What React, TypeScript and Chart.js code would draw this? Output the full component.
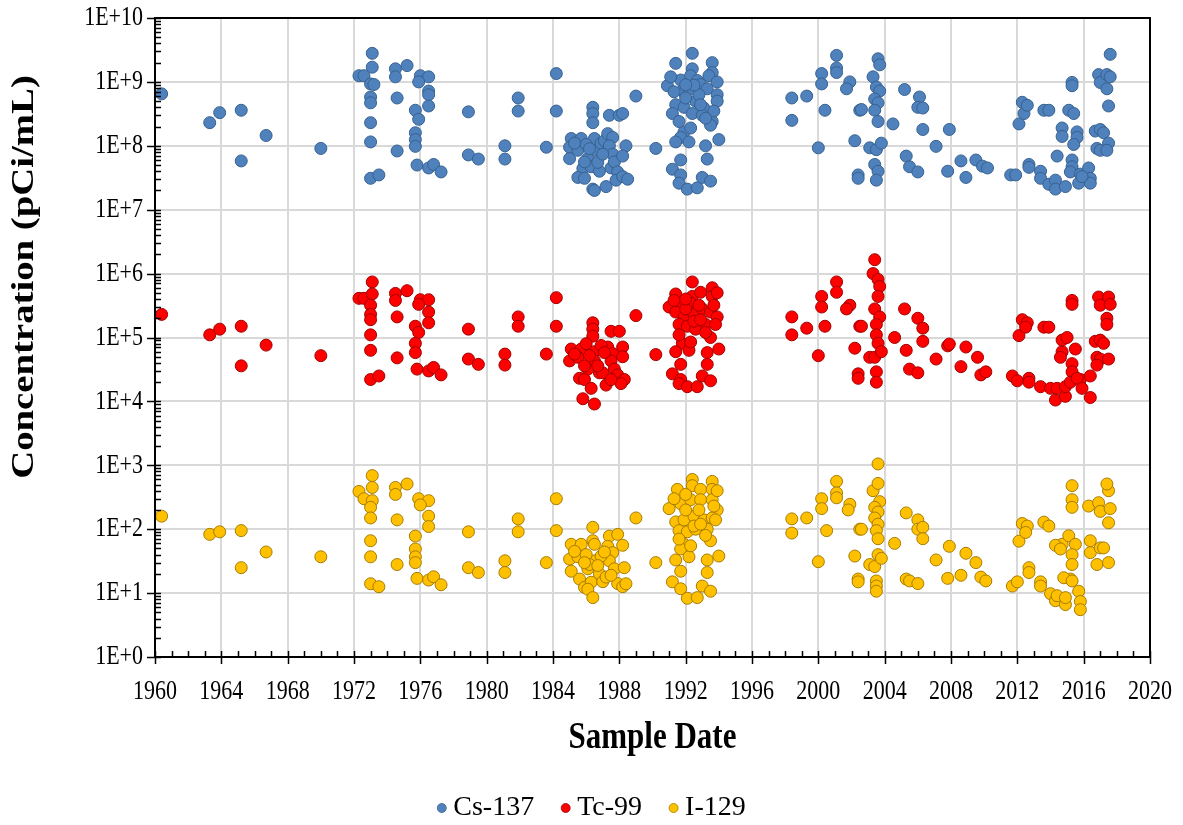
import React, { useEffect, useRef } from 'react';
import { Chart, registerables } from 'chart.js';

Chart.register(...registerables);

const FONT = "'Liberation Serif', 'Times New Roman', serif";

const seriesLabels = ['Cs-137', 'Tc-99', 'I-129'];
const seriesFill = ['#4f81bd', '#ff0000', '#ffc000'];
const seriesBorder = ['#37618f', '#a00000', '#a67c00'];

const xTickValues = [1960, 1964, 1968, 1972, 1976, 1980, 1984, 1988, 1992, 1996, 2000, 2004, 2008, 2012, 2016, 2020];
const yTickValues = [1, 10, 100, 1e3, 1e4, 1e5, 1e6, 1e7, 1e8, 1e9, 1e10];
const yTickLabels = ['1E+0', '1E+1', '1E+2', '1E+3', '1E+4', '1E+5', '1E+6', '1E+7', '1E+8', '1E+9', '1E+10'];

const xAxisTitle = 'Sample Date';
const yAxisTitle = 'Concentration (pCi/mL)';

// [sample year, concentration pCi/mL]
const cs137: [number, number][] = [
  [1960.4, 6.5e8], [1963.3, 2.3e8], [1963.9, 3.3e8], [1965.2, 3.6e8], [1965.2, 5.8e7], [1966.7, 1.45e8], [1970.0, 9.1e7],
  [1972.3, 1.25e9], [1972.6, 1.25e9], [1973.1, 2.8e9], [1973.1, 1.7e9], [1973.0, 9.3e8], [1973.2, 9.1e8], [1973.0, 5.8e8],
  [1973.0, 4.7e8], [1973.0, 2.3e8], [1973.0, 1.15e8], [1973.0, 3.1e7], [1973.5, 3.5e7],
  [1974.5, 1.6e9], [1974.5, 1.2e9], [1975.2, 1.8e9], [1974.6, 5.6e8], [1974.6, 8.3e7],
  [1976.0, 1.25e9], [1976.5, 1.2e9], [1975.9, 1.0e9], [1976.5, 7.2e8], [1976.5, 6.3e8], [1976.5, 4.2e8], [1975.7, 3.6e8],
  [1975.9, 2.6e8], [1975.7, 1.6e8], [1975.7, 1.25e8], [1975.7, 9.8e7], [1975.8, 5.0e7], [1976.5, 4.5e7], [1976.8, 5.1e7],
  [1977.25, 3.9e7], [1978.9, 3.4e8], [1978.9, 7.2e7], [1979.5, 6.2e7],
  [1981.1, 1.0e8], [1981.1, 6.2e7], [1981.9, 5.6e8], [1981.9, 3.5e8], [1983.6, 9.5e7], [1984.2, 1.35e9], [1984.2, 3.5e8],
  [1986.4, 4.0e8], [1986.4, 3.2e8], [1986.4, 2.3e8], [1985.1, 1.3e8], [1985.7, 1.3e8], [1985.0, 9.5e7], [1985.5, 8.5e7],
  [1985.0, 6.3e7], [1986.5, 1.3e8], [1986.5, 8.5e7], [1986.1, 6.3e7], [1985.8, 4.4e7], [1986.3, 4.7e7], [1986.8, 4.0e7],
  [1985.5, 3.2e7], [1985.9, 3.1e7], [1986.4, 2.1e7], [1986.5, 2.0e7], [1987.2, 2.3e7], [1986.0, 1.05e8], [1986.9, 1.1e8],
  [1985.3, 1.1e8], [1986.2, 9.0e7], [1987.1, 1.2e8], [1986.7, 5.5e7], [1985.9, 5.6e7], [1987.5, 4.5e7],
  [1987.4, 3.0e8], [1988.0, 3.0e8], [1987.3, 1.55e8], [1987.6, 1.35e8], [1987.4, 1.0e8], [1987.6, 7.4e7], [1987.0, 7.4e7],
  [1987.7, 5.6e7], [1987.9, 3.9e7], [1987.8, 2.9e7], [1988.2, 3.2e8], [1988.4, 1.0e8], [1988.2, 6.9e7], [1988.2, 3.3e7],
  [1988.5, 3.0e7], [1989.0, 6.0e8], [1990.2, 9.1e7],
  [1992.4, 2.8e9], [1991.4, 1.95e9], [1992.4, 1.6e9], [1993.6, 2.0e9], [1993.6, 1.4e9], [1990.9, 8.7e8], [1991.7, 1.07e9],
  [1992.3, 1.25e9], [1992.7, 1.05e9], [1992.9, 9.1e8], [1993.3, 7.8e8], [1991.4, 4.4e8], [1991.9, 4.0e8], [1991.8, 7.2e8],
  [1992.2, 7.6e8], [1992.6, 5.0e8], [1993.1, 3.9e8], [1993.9, 6.3e8], [1993.9, 5.0e8], [1992.4, 3.2e8], [1993.0, 3.0e8],
  [1993.6, 2.4e8], [1993.5, 2.1e8], [1991.9, 1.65e8], [1991.7, 1.35e8], [1991.4, 1.15e8], [1992.2, 1.15e8], [1993.2, 1.0e8],
  [1994.0, 1.25e8], [1991.7, 6.0e7], [1993.3, 6.2e7], [1991.2, 4.3e7], [1991.7, 3.5e7], [1991.6, 2.6e7], [1992.1, 2.1e7],
  [1992.7, 2.2e7], [1993.0, 3.2e7], [1993.5, 2.8e7], [1992.0, 5.6e8], [1992.8, 6.3e8], [1991.2, 3.2e8], [1992.5, 8.9e8],
  [1993.4, 1.25e9], [1991.3, 7.0e8], [1992.9, 4.4e8], [1993.7, 3.5e8], [1991.6, 2.4e8], [1992.3, 1.9e8], [1993.2, 2.7e8],
  [1992.0, 9.0e8], [1993.9, 1.0e9], [1991.1, 1.2e9],
  [1998.4, 5.6e8], [1998.4, 2.5e8], [1999.3, 6.0e8], [2000.0, 9.3e7], [2000.2, 1.35e9], [2000.2, 9.3e8], [2000.4, 3.6e8],
  [2001.1, 2.6e9], [2001.1, 1.65e9], [2001.1, 1.4e9], [2001.9, 1.0e9], [2001.7, 7.8e8], [2002.2, 1.2e8], [2002.5, 3.6e8],
  [2002.6, 3.7e8], [2002.4, 3.5e7], [2002.4, 3.1e7], [2003.1, 9.3e7], [2003.5, 8.7e7], [2003.3, 1.2e9], [2003.5, 8.3e8],
  [2003.7, 7.2e8], [2003.4, 5.4e8], [2003.6, 4.7e8], [2003.4, 3.6e8], [2003.6, 2.4e8], [2003.8, 1.1e8], [2003.4, 5.1e7],
  [2003.6, 4.0e7], [2003.5, 2.9e7], [2003.6, 2.3e9], [2003.7, 1.85e9], [2004.5, 2.2e8],
  [2005.2, 7.6e8], [2006.1, 5.8e8], [2006.0, 4.0e8], [2006.3, 3.9e8], [2006.3, 1.8e8], [2007.1, 9.8e7], [2005.3, 6.9e7],
  [2005.5, 4.7e7], [2006.0, 3.9e7], [2007.9, 1.8e8], [2007.8, 4.0e7], [2008.6, 5.8e7], [2008.9, 3.2e7], [2009.5, 6.0e7],
  [2009.9, 4.8e7], [2010.2, 4.5e7], [2011.6, 3.5e7], [2011.9, 3.5e7],
  [2012.1, 2.2e8], [2012.4, 3.2e8], [2012.3, 4.8e8], [2012.6, 4.3e8], [2012.7, 5.1e7], [2012.7, 4.6e7], [2013.4, 4.0e7],
  [2013.4, 3.1e7], [2013.6, 3.6e8], [2013.9, 3.6e8], [2013.9, 2.5e7], [2014.3, 2.9e7], [2014.3, 2.1e7], [2014.9, 2.3e7],
  [2014.4, 6.9e7], [2014.7, 1.9e8], [2014.7, 1.4e8], [2015.3, 9.8e8], [2015.3, 8.7e8], [2015.1, 3.6e8], [2015.4, 3.2e8],
  [2015.6, 1.65e8], [2015.6, 1.35e8], [2015.4, 1.05e8], [2015.3, 6.0e7], [2015.3, 4.7e7], [2015.2, 3.9e7], [2015.8, 3.6e7],
  [2016.3, 4.5e7], [2016.4, 3.1e7], [2016.4, 2.6e7], [2015.7, 2.6e7], [2015.9, 3.3e7],
  [2016.9, 1.3e9], [2017.0, 9.8e8], [2017.4, 1.3e9], [2017.6, 1.2e9], [2017.6, 2.7e9], [2017.4, 7.8e8], [2017.5, 4.2e8],
  [2016.7, 1.7e8], [2017.0, 1.8e8], [2017.2, 1.6e8], [2017.5, 1.1e8], [2016.8, 9.1e7], [2017.0, 8.5e7], [2017.4, 8.5e7],
];

const tc99: [number, number][] = [
  [1960.4, 2.3e5], [1963.3, 1.1e5], [1963.9, 1.35e5], [1965.2, 1.5e5], [1965.2, 3.6e4], [1966.7, 7.6e4], [1970.0, 5.2e4],
  [1973.1, 7.4e5], [1972.3, 4.1e5], [1972.6, 4.1e5], [1973.1, 4.8e5], [1973.0, 3.2e5], [1973.0, 2.3e5], [1973.0, 1.9e5],
  [1973.0, 1.1e5], [1973.0, 6.3e4], [1973.0, 2.2e4], [1973.5, 2.5e4],
  [1974.5, 4.9e5], [1974.5, 3.8e5], [1975.2, 5.4e5], [1974.6, 2.1e5], [1974.6, 4.8e4],
  [1976.0, 3.9e5], [1976.5, 3.9e5], [1975.9, 3.3e5], [1976.5, 2.5e5], [1976.5, 1.7e5], [1975.7, 1.5e5], [1975.9, 1.2e5],
  [1975.7, 8.1e4], [1975.7, 5.8e4], [1975.8, 3.2e4], [1976.5, 3.0e4], [1976.8, 3.4e4], [1977.25, 2.6e4],
  [1978.9, 1.35e5], [1978.9, 4.6e4], [1979.5, 3.8e4],
  [1981.1, 5.5e4], [1981.1, 3.7e4], [1981.9, 2.1e5], [1981.9, 1.5e5], [1983.6, 5.5e4], [1984.2, 4.2e5], [1984.2, 1.5e5],
  [1986.4, 1.7e5], [1986.4, 1.35e5], [1986.4, 1.05e5], [1987.5, 1.25e5], [1988.0, 1.25e5], [1985.1, 6.6e4], [1985.7, 6.6e4],
  [1985.0, 4.3e4], [1985.5, 4.9e4], [1986.5, 6.0e4], [1986.5, 4.3e4], [1986.1, 3.2e4], [1986.8, 2.8e4], [1987.3, 7.1e4],
  [1987.6, 5.6e4], [1987.5, 4.3e4], [1987.0, 2.8e4], [1987.7, 3.2e4], [1987.9, 2.6e4], [1985.6, 2.3e4], [1985.9, 2.2e4],
  [1986.3, 1.6e4], [1987.2, 1.8e4], [1985.8, 1.1e4], [1986.5, 9.1e3], [1988.2, 7.1e4], [1988.2, 5.0e4], [1988.3, 2.2e4],
  [1988.1, 1.9e4], [1986.0, 8.0e4], [1986.9, 7.5e4],
  [1985.3, 5.5e4], [1986.2, 5.2e4], [1987.1, 5.8e4], [1986.7, 3.6e4], [1985.9, 3.6e4], [1987.5, 2.2e4],
  [1989.0, 2.2e5], [1990.2, 5.4e4],
  [1992.4, 7.4e5], [1991.4, 4.8e5], [1992.4, 4.4e5], [1992.9, 5.1e5], [1993.6, 6.0e5], [1993.6, 4.4e5], [1991.0, 3.0e5],
  [1991.7, 3.5e5], [1992.3, 3.5e5], [1991.4, 2.5e5], [1991.9, 2.1e5], [1992.5, 2.3e5], [1993.0, 2.8e5], [1993.5, 2.5e5],
  [1993.9, 2.1e5], [1991.6, 1.6e5], [1992.1, 1.5e5], [1992.6, 1.35e5], [1993.2, 1.6e5], [1993.8, 1.6e5], [1991.8, 8.1e4],
  [1992.2, 6.3e4], [1993.5, 1.0e5], [1991.4, 6.0e4], [1993.3, 5.8e4], [1994.0, 6.6e4], [1991.7, 3.8e4], [1993.3, 3.8e4],
  [1991.2, 2.7e4], [1991.7, 2.2e4], [1991.6, 1.9e4], [1992.1, 1.7e4], [1992.7, 1.7e4], [1993.0, 2.5e4], [1993.5, 2.1e4],
  [1992.0, 2.8e5], [1992.8, 3.2e5], [1992.5, 1.8e5],
  [1991.3, 3.8e5], [1992.9, 1.9e5], [1993.7, 3.2e5], [1991.6, 1.1e5], [1992.3, 8.5e4], [1993.2, 1.2e5], [1992.0, 4.0e5],
  [1993.9, 5.0e5],
  [1998.4, 2.1e5], [1998.4, 1.1e5], [1999.3, 1.4e5], [2000.0, 5.2e4], [2000.2, 4.4e5], [2000.2, 3.0e5], [2000.4, 1.5e5],
  [2001.1, 7.4e5], [2001.1, 5.1e5], [2001.9, 3.2e5], [2001.7, 2.8e5], [2002.2, 6.8e4], [2002.5, 1.5e5], [2002.6, 1.5e5],
  [2002.4, 2.7e4], [2002.4, 2.3e4], [2003.1, 4.9e4], [2003.4, 4.9e4], [2003.4, 1.65e6], [2003.3, 1.0e6], [2003.6, 8.1e5],
  [2003.7, 6.3e5], [2003.6, 4.4e5], [2003.4, 2.8e5], [2003.7, 2.1e5], [2003.5, 1.6e5], [2003.5, 1.1e5], [2003.6, 8.1e4],
  [2003.8, 6.0e4], [2003.5, 2.9e4], [2003.5, 2.0e4], [2004.6, 1.0e5],
  [2005.2, 2.8e5], [2006.0, 2.0e5], [2006.3, 1.4e5], [2006.3, 8.7e4], [2005.3, 6.3e4], [2007.1, 4.6e4], [2005.5, 3.2e4],
  [2006.0, 2.8e4], [2007.8, 7.4e4], [2007.9, 7.9e4], [2008.9, 7.1e4], [2009.6, 4.9e4], [2008.6, 3.5e4], [2009.8, 2.6e4],
  [2010.1, 2.9e4], [2011.7, 2.5e4], [2012.0, 2.1e4],
  [2012.1, 1.07e5], [2012.3, 1.9e5], [2012.6, 1.7e5], [2012.5, 1.45e5], [2012.7, 2.3e4], [2012.7, 2.0e4], [2013.4, 1.7e4],
  [2013.6, 1.45e5], [2013.9, 1.45e5], [2014.0, 1.6e4], [2014.3, 1.05e4], [2014.4, 1.6e4], [2014.9, 1.2e4], [2014.9, 1.7e4],
  [2014.7, 6.0e4], [2014.6, 4.9e4], [2014.7, 9.1e4], [2015.0, 1.0e5], [2015.3, 3.8e5], [2015.3, 3.3e5], [2015.5, 6.6e4],
  [2015.3, 3.9e4], [2015.3, 2.9e4], [2015.2, 2.0e4], [2015.8, 2.2e4], [2016.4, 2.5e4], [2016.4, 1.15e4], [2015.6, 2.3e4],
  [2015.9, 1.6e4],
  [2016.9, 4.3e5], [2017.0, 3.2e5], [2017.5, 4.3e5], [2017.6, 3.3e5], [2017.4, 2.0e5], [2017.4, 1.6e5], [2016.7, 8.7e4],
  [2017.0, 9.1e4], [2017.2, 8.1e4], [2016.8, 4.9e4], [2017.0, 4.6e4], [2017.5, 4.6e4], [2016.8, 3.7e4],
];

const i129: [number, number][] = [
  [1960.4, 160], [1963.3, 83], [1963.9, 91], [1965.2, 95], [1965.2, 25], [1966.7, 44], [1970.0, 37],
  [1973.1, 690], [1972.3, 390], [1972.6, 300], [1973.1, 450], [1973.1, 280], [1973.0, 220], [1973.0, 150], [1973.0, 66],
  [1973.0, 37], [1973.0, 14], [1973.5, 12.6],
  [1974.5, 450], [1974.5, 350], [1975.2, 510], [1974.6, 140], [1974.6, 28],
  [1975.9, 300], [1976.5, 280], [1976.0, 240], [1976.5, 160], [1976.5, 110], [1975.7, 78], [1975.7, 49], [1975.7, 37],
  [1975.7, 30], [1975.8, 17], [1976.5, 16], [1976.8, 18], [1977.25, 13.5],
  [1978.9, 91], [1978.9, 25], [1979.5, 21],
  [1981.1, 32], [1981.1, 21], [1981.9, 145], [1981.9, 91], [1983.6, 30], [1984.2, 300], [1984.2, 95],
  [1986.4, 107], [1986.4, 66], [1985.1, 58], [1985.7, 58], [1985.0, 34], [1985.5, 37], [1985.1, 22], [1986.5, 58],
  [1986.5, 32], [1986.1, 24], [1986.8, 20], [1987.4, 78], [1987.9, 83], [1987.3, 54], [1987.6, 43], [1987.4, 32],
  [1987.7, 24], [1985.6, 16.6], [1985.9, 12.3], [1986.3, 14.8], [1986.1, 11.5], [1987.0, 15.1], [1987.2, 17.8],
  [1987.9, 14.1], [1986.4, 8.5], [1988.2, 56], [1988.3, 25], [1988.2, 12.6], [1988.4, 14], [1986.0, 40], [1986.9, 38],
  [1985.3, 45], [1986.2, 28], [1987.1, 44], [1986.7, 27], [1985.9, 30], [1987.5, 19],
  [1989.0, 150], [1990.2, 30],
  [1992.4, 600], [1991.5, 420], [1992.4, 480], [1992.9, 420], [1993.6, 560], [1993.6, 420], [1991.0, 210], [1991.7, 250],
  [1992.3, 290], [1992.9, 290], [1993.6, 290], [1993.9, 200], [1991.4, 130], [1991.9, 140], [1992.5, 160], [1993.1, 140],
  [1993.6, 150], [1993.8, 140], [1991.6, 95], [1992.1, 91], [1992.6, 100], [1993.3, 100], [1993.5, 66], [1991.9, 58],
  [1991.7, 49], [1992.2, 37], [1991.4, 33], [1993.3, 33], [1991.7, 22], [1993.3, 21], [1994.0, 38], [1991.2, 15],
  [1991.7, 11.7], [1992.1, 8.3], [1992.7, 8.5], [1993.0, 12.9], [1993.5, 10.7], [1992.0, 200], [1992.8, 200], [1992.5, 112],
  [1991.3, 300], [1992.9, 120], [1993.7, 230], [1991.6, 70], [1992.3, 55], [1993.2, 80], [1992.0, 350], [1993.9, 400],
  [1998.4, 145], [1998.4, 87], [1999.3, 150], [2000.0, 31], [2000.2, 300], [2000.2, 210], [2000.5, 95],
  [2001.1, 560], [2001.1, 370], [2001.1, 310], [2001.9, 245], [2001.8, 200], [2002.2, 38], [2002.5, 100], [2002.6, 100],
  [2002.4, 16.6], [2002.4, 15], [2003.1, 28], [2003.4, 26], [2003.6, 1050], [2003.3, 400], [2003.6, 520], [2003.7, 270],
  [2003.4, 220], [2003.6, 186], [2003.4, 150], [2003.6, 120], [2003.5, 95], [2003.6, 71], [2003.6, 40], [2003.8, 35],
  [2003.5, 15.5], [2003.5, 12.9], [2003.5, 10.7], [2004.6, 60],
  [2005.3, 180], [2006.0, 140], [2006.0, 100], [2006.3, 107], [2006.3, 71], [2007.1, 33], [2007.9, 54], [2005.3, 16.6],
  [2005.5, 15.5], [2006.0, 14.1], [2007.8, 17], [2008.6, 19], [2008.9, 42], [2009.5, 30], [2009.8, 17.8], [2010.1, 15.5],
  [2011.7, 12.9], [2012.0, 15],
  [2012.1, 65], [2012.3, 123], [2012.6, 112], [2012.5, 89], [2012.7, 25], [2012.7, 21], [2013.4, 15], [2013.4, 12.9],
  [2013.6, 129], [2013.9, 112], [2014.0, 9.8], [2014.3, 7.6], [2014.4, 9.1], [2014.9, 6.6], [2014.9, 8.5], [2014.7, 58],
  [2014.3, 56], [2014.6, 49], [2015.1, 79], [2015.5, 58], [2015.3, 480], [2015.3, 290], [2015.3, 220], [2015.3, 40],
  [2015.3, 28], [2015.2, 16.6], [2014.8, 17.4], [2015.3, 15.5], [2015.7, 10.7], [2015.8, 7.4], [2015.8, 5.5],
  [2016.3, 230], [2016.4, 66], [2016.4, 43],
  [2016.9, 260], [2017.0, 190], [2017.5, 400], [2017.6, 210], [2017.0, 51], [2017.4, 510], [2017.5, 126], [2016.8, 28],
  [2017.5, 30], [2017.2, 51],
];

const seriesData = [cs137, tc99, i129];

// text in the reference is vertically elongated
const TEXT_STRETCH = 1.25;

function stretchedText(ctx: CanvasRenderingContext2D, text: string, x: number, y: number, rotate = false) {
  ctx.save();
  ctx.translate(x, y);
  if (rotate) {
    ctx.rotate(-Math.PI / 2);
    ctx.scale(TEXT_STRETCH, 1);
  } else {
    ctx.scale(1, TEXT_STRETCH);
  }
  ctx.fillText(text, 0, 0);
  ctx.restore();
}

const framePlugin = {
  id: 'frameAndText',
  afterDraw(chart: any) {
    const ctx: CanvasRenderingContext2D = chart.ctx;
    const { left, right, top, bottom } = chart.chartArea;
    const xs = chart.scales.x;
    const ys = chart.scales.y;
    ctx.save();

    // minor / major tick marks
    ctx.strokeStyle = '#000';
    ctx.lineWidth = 1.5;
    ctx.beginPath();
    for (let yr = xs.min; yr <= xs.max; yr++) {
      const x = Math.round(xs.getPixelForValue(yr)) + 0.5;
      if (yr % 4 === 0) {
        ctx.moveTo(x, bottom - 6);
        ctx.lineTo(x, bottom + 7);
      } else {
        ctx.moveTo(x, bottom - 6);
        ctx.lineTo(x, bottom);
      }
    }
    for (let d = 0; d <= 10; d++) {
      const base = Math.pow(10, d);
      const y = Math.round(ys.getPixelForValue(base)) + 0.5;
      ctx.moveTo(left - 8, y);
      ctx.lineTo(left + 6, y);
      if (d < 10) {
        for (let m = 2; m <= 9; m++) {
          const ym = Math.round(ys.getPixelForValue(m * base)) + 0.5;
          ctx.moveTo(left, ym);
          ctx.lineTo(left + 6, ym);
        }
      }
    }
    ctx.stroke();

    // frame
    ctx.lineWidth = 2;
    ctx.strokeStyle = '#000';
    ctx.strokeRect(left, top, right - left, bottom - top);

    // tick labels
    ctx.fillStyle = '#000';
    ctx.font = `22px ${FONT}`;
    ctx.textAlign = 'right';
    ctx.textBaseline = 'middle';
    yTickValues.forEach((v, i) => {
      stretchedText(ctx, yTickLabels[i], left - 12, ys.getPixelForValue(v));
    });
    ctx.textAlign = 'center';
    xTickValues.forEach((v) => {
      stretchedText(ctx, String(v), xs.getPixelForValue(v), bottom + 35);
    });

    // axis titles
    ctx.font = `bold 31px ${FONT}`;
    stretchedText(ctx, xAxisTitle, (left + right) / 2, bottom + 81);
    stretchedText(ctx, yAxisTitle, 25, 277, true);

    // legend
    ctx.font = `28px ${FONT}`;
    ctx.textAlign = 'left';
    const r = 4.5;
    const gapText = 7;
    const gapItem = 27;
    const widths = chart.data.datasets.map((ds: any) => 2 * r + gapText + ctx.measureText(ds.label).width);
    const total = widths.reduce((a: number, b: number) => a + b, 0) + gapItem * (widths.length - 1);
    let x = chart.width / 2 - total / 2;
    const ly = 808;
    chart.data.datasets.forEach((ds: any, i: number) => {
      ctx.beginPath();
      ctx.arc(x + r, ly, r, 0, Math.PI * 2);
      ctx.fillStyle = ds.backgroundColor;
      ctx.fill();
      ctx.lineWidth = 0.8;
      ctx.strokeStyle = ds.borderColor;
      ctx.stroke();
      ctx.fillStyle = '#000';
      ctx.fillText(ds.label, x + 2 * r + gapText, ly);
      x += widths[i] + gapItem;
    });

    ctx.restore();
  },
};

export default function App() {
  const canvasRef = useRef<HTMLCanvasElement | null>(null);

  useEffect(() => {
    document.body.style.margin = '0';
    const canvas = canvasRef.current;
    if (!canvas) return;
    const chart = new Chart(canvas, {
      type: 'scatter',
      data: {
        datasets: seriesData.map((arr, i) => ({
          label: seriesLabels[i],
          data: arr.map(([x, y]) => ({ x, y })),
          backgroundColor: seriesFill[i],
          borderColor: seriesBorder[i],
          borderWidth: 1,
          pointRadius: 6,
          pointHoverRadius: 6,
        })),
      },
      options: {
        animation: false,
        responsive: false,
        events: [],
        layout: { padding: { left: 155, right: 33, top: 18, bottom: 168 } },
        plugins: {
          legend: { display: false },
          tooltip: { enabled: false },
        },
        scales: {
          x: {
            type: 'linear',
            min: 1960,
            max: 2020,
            afterBuildTicks: (scale: any) => {
              scale.ticks = xTickValues.map((v) => ({ value: v }));
            },
            afterFit: (scale: any) => {
              scale.height = 0;
            },
            ticks: { display: false },
            grid: { color: '#d9d9d9', lineWidth: 2, drawTicks: false },
            border: { display: false },
          },
          y: {
            type: 'logarithmic',
            min: 1,
            max: 1e10,
            afterBuildTicks: (scale: any) => {
              scale.ticks = yTickValues.map((v) => ({ value: v }));
            },
            afterFit: (scale: any) => {
              scale.width = 0;
            },
            ticks: { display: false },
            grid: { color: '#d9d9d9', lineWidth: 2, drawTicks: false },
            border: { display: false },
          },
        },
      },
      plugins: [framePlugin],
    } as any);
    return () => chart.destroy();
  }, []);

  return (
    <div style={{ position: 'absolute', left: 0, top: 0, width: 1183, height: 825, background: '#fff' }}>
      <canvas ref={canvasRef} width={1183} height={825} style={{ display: 'block' }} />
    </div>
  );
}
